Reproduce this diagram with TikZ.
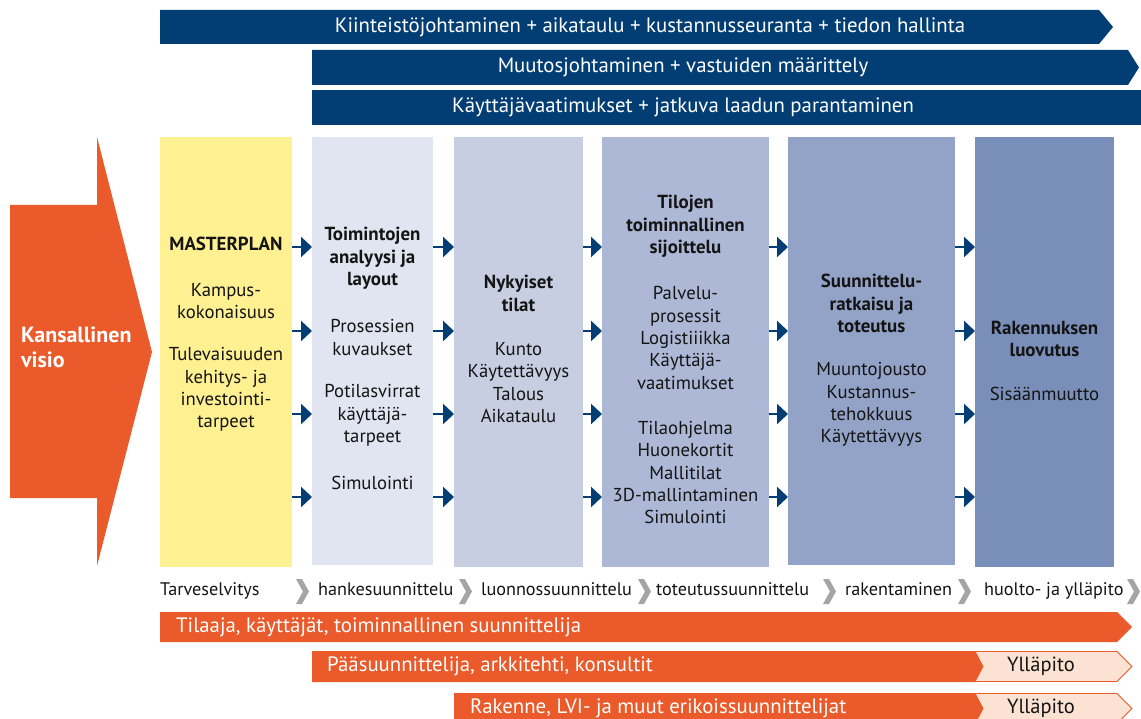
\documentclass[tikz,border=0pt]{standalone}
\usepackage{fontspec}
\setmainfont{PT Sans}
\usetikzlibrary{arrows.meta}

\definecolor{navy}{RGB}{2,62,115}
\definecolor{orangec}{RGB}{234,90,42}
\definecolor{pinkc}{RGB}{252,226,210}
\definecolor{yellowc}{RGB}{255,241,146}
\definecolor{colB}{RGB}{224,229,241}
\definecolor{colC}{RGB}{199,206,225}
\definecolor{colD}{RGB}{172,184,213}
\definecolor{colE}{RGB}{147,163,199}
\definecolor{colF}{RGB}{121,142,184}
\definecolor{chevgray}{RGB}{165,165,165}
\definecolor{ink}{RGB}{20,20,20}

\begin{document}
\begin{tikzpicture}[x=1pt,y=-1pt,
  colbox/.style={draw=none,inner sep=0pt,outer sep=0pt},
  coltxt/.style={inner sep=0pt,align=center,text=ink,font=\fontsize{18.7}{22.3}\selectfont},
  colhead/.style={coltxt,font=\fontsize{18.9}{22.3}\selectfont\bfseries},
  bantext/.style={inner sep=0pt,text=white,font=\fontsize{20.8}{24}\selectfont},
  phasetxt/.style={inner sep=0pt,anchor=west,text=ink,text height=13pt,text depth=4pt,font=\fontsize{18.2}{22}\selectfont},
  bartxt/.style={inner sep=0pt,anchor=west,text=white,text height=14pt,text depth=4pt,font=\fontsize{20.8}{24}\selectfont},
  keeptxt/.style={inner sep=0pt,text=ink,text height=14pt,text depth=4pt,font=\fontsize{20.5}{24}\selectfont},
  flowarr/.style={navy,line width=2.6pt,-{Triangle[length=11pt,width=20pt]}},
  chev/.style={fill=chevgray}
]
\useasboundingbox (0,0) rectangle (1141,719);
\clip (0,0) rectangle (1141,719);

% management banners
\fill[navy] (160,10) -- (1099,10) -- (1113,27) -- (1099,44) -- (160,44) -- cycle;
\node[bantext] (ban1) at (650,27) {Kiinteistöjohtaminen + aikataulu + kustannusseuranta + tiedon hallinta};
\fill[navy] (312,50) -- (1128,50) -- (1139,67.5) -- (1128,85) -- (312,85) -- cycle;
\node[bantext] (ban2) at (683,67.5) {Muutosjohtaminen + vastuiden määrittely};
\fill[navy] (312,90) rectangle (1141,125);
\node[bantext] (ban3) at (683,107.5) {Käyttäjävaatimukset + jatkuva laadun parantaminen};

% national vision arrow
\fill[orangec] (10,205) -- (97,205) -- (97,137) -- (152,352) -- (97,566) -- (97,498) -- (10,498) -- cycle;
\node[inner sep=0pt,anchor=west,align=left,text=white,font=\fontsize{22}{25}\selectfont\bfseries] (visio) at (21,347.5) {Kansallinen\\visio};

% phase columns
\node[colbox,fill=yellowc,minimum width=132,minimum height=430] (c1) at (226,352) {};
\node[colbox,fill=colB,minimum width=121,minimum height=428] (c2) at (372.5,351) {};
\node[colbox,fill=colC,minimum width=129,minimum height=430] (c3) at (518.5,352) {};
\node[colbox,fill=colD,minimum width=167,minimum height=430] (c4) at (685.5,352) {};
\node[colbox,fill=colE,minimum width=167,minimum height=428] (c5) at (871.5,351) {};
\node[colbox,fill=colF,minimum width=139,minimum height=430] (c6) at (1044.5,352) {};

% flow arrows between columns
\foreach \a/\b in {c1/c2,c2/c3,c3/c4,c4/c5,c5/c6}{
  \foreach \yy in {247,331,414,497}{
    \draw[flowarr] (\a.east |- 0,\yy) -- (\b.west |- 0,\yy);
  }
}

% column texts
\node[colhead] (t1a) at (226,244) {MASTERPLAN};
\node[coltxt] (t1b) at (226,301) {Kampus-\\kokonaisuus};
\node[coltxt] (t1c) at (226,389.5) {Tulevaisuuden\\kehitys- ja\\investointi-\\tarpeet};

\node[colhead] (t2a) at (372.5,258.5) {Toimintojen\\analyysi ja\\layout};
\node[coltxt] (t2b) at (372.5,337.5) {Prosessien\\kuvaukset};
\node[coltxt] (t2c) at (372.5,415.5) {Potilasvirrat\\käyttäjä-\\tarpeet};
\node[coltxt] (t2d) at (372.5,483) {Simulointi};

\node[colhead] (t3a) at (518.5,293.5) {Nykyiset\\tilat};
\node[coltxt] (t3b) at (518.5,382.5) {Kunto\\Käytettävyys\\Talous\\Aikataulu};

\node[colhead] (t4a) at (685.5,226.5) {Tilojen\\toiminnallinen\\sijoittelu};
\node[coltxt] (t4b) at (685.5,338) {Palvelu-\\prosessit\\Logistiiikka\\Käyttäjä-\\vaatimukset};
\node[coltxt] (t4c) at (685.5,472.5) {Tilaohjelma\\Huonekortit\\Mallitilat\\3D-mallintaminen\\Simulointi};

\node[colhead] (t5a) at (871.5,303.5) {Suunnittelu-\\ratkaisu ja\\toteutus};
\node[coltxt] (t5b) at (871.5,404.5) {Muuntojousto\\Kustannus-\\tehokkuus\\Käytettävyys};

\node[colhead] (t6a) at (1044.5,339) {Rakennuksen\\luovutus};
\node[coltxt] (t6b) at (1044.5,394) {Sisäänmuutto};

% phase row with chevrons
\foreach \cx in {296,459,638,823,958,1127}{
  \fill[chev] (\cx,579) -- (\cx+6,579) -- (\cx+13,591.5) -- (\cx+6,604) -- (\cx,604) -- (\cx+7,591.5) -- cycle;
}
\node[phasetxt] (p0) at (160,591) {Tarveselvitys};
\node[phasetxt] (p1) at (318,591) {hankesuunnittelu};
\node[phasetxt] (p2) at (481,591) {luonnossuunnittelu};
\node[phasetxt] (p3) at (656,591) {toteutussuunnittelu};
\node[phasetxt] (p4) at (845,591) {rakentaminen};
\node[phasetxt] (p5) at (984,591) {huolto- ja ylläpito};

% actor bars
\fill[orangec] (160,612) -- (1117,612) -- (1132,627) -- (1117,642) -- (160,642) -- cycle;
\node[bartxt] (r1) at (176,627) {Tilaaja, käyttäjät, toiminnallinen suunnittelija};

\filldraw[fill=pinkc,draw=orangec,line width=0.8pt] (975,651.5) -- (1117,651.5) -- (1132,666.5) -- (1117,681.5) -- (975,681.5) -- (983,666.5) -- cycle;
\fill[orangec] (312,651) -- (975,651) -- (983,666.5) -- (975,682) -- (312,682) -- cycle;
\node[bartxt] (r2) at (327,666.5) {Pääsuunnittelija, arkkitehti, konsultit};
\node[keeptxt] (k2) at (1041,666.5) {Ylläpito};

\filldraw[fill=pinkc,draw=orangec,line width=0.8pt] (975,693.5) -- (1117,693.5) -- (1132,708.5) -- (1117,723.5) -- (975,723.5) -- (983,708.5) -- cycle;
\fill[orangec] (454,693) -- (975,693) -- (983,708.5) -- (975,724) -- (454,724) -- cycle;
\node[bartxt] (r3) at (470,708.5) {Rakenne, LVI- ja muut erikoissuunnittelijat};
\node[keeptxt] (k3) at (1041,708.5) {Ylläpito};
\end{tikzpicture}
\end{document}
